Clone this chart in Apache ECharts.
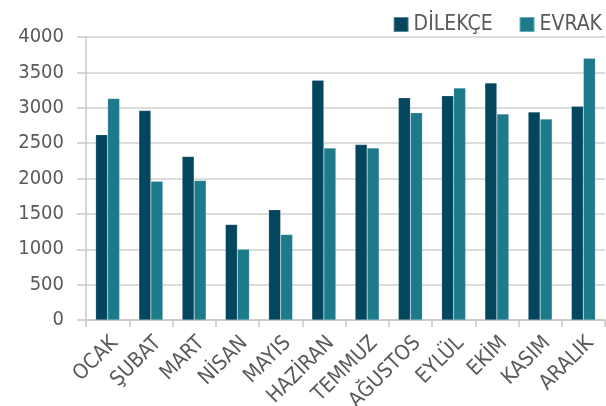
<!DOCTYPE html>
<html>
<head>
<meta charset="utf-8">
<script src="https://cdn.jsdelivr.net/npm/echarts@6/dist/echarts.min.js"></script>
<style>
  html, body { margin: 0; padding: 0; background: #fff; }
  #chart { width: 606px; height: 406px; }
</style>
</head>
<body>
<div id="chart"></div>
<script>
const months = ['OCAK', 'ŞUBAT', 'MART', 'NİSAN', 'MAYIS', 'HAZİRAN', 'TEMMUZ', 'AĞUSTOS', 'EYLÜL', 'EKİM', 'KASIM', 'ARALIK']
const dilekce = [2620, 2960, 2310, 1350, 1560, 3390, 2480, 3140, 3170, 3350, 2940, 3020]
const evrak = [3130, 1960, 1970, 1000, 1210, 2430, 2430, 2930, 3280, 2910, 2840, 3700]

const font = '"DejaVu Sans Condensed"'
const textColor = '#5a5a5a'

const myChart = echarts.init(document.getElementById('chart'))
myChart.setOption({
  animation: false,
  color: ['#03465e', '#1c7a8a'],
  textStyle: { fontFamily: font },
  legend: {
    top: 14,
    right: 4,
    padding: 0,
    icon: 'rect',
    itemWidth: 15,
    itemHeight: 15,
    itemGap: 26,
    textStyle: { fontSize: 21, color: textColor, fontFamily: font },
    data: ['DİLEKÇE', 'EVRAK'],
  },
  grid: {
    left: 86,
    right: 1,
    top: 37,
    bottom: 86,
    containLabel: false,
    outerBoundsMode: 'none',
  },
  xAxis: {
    type: 'category',
    data: months,
    axisLine: { lineStyle: { color: '#c8c8c8', width: 1.5 } },
    axisTick: { show: true, length: 7, lineStyle: { color: '#c8c8c8', width: 1.5 } },
    axisLabel: {
      rotate: 45,
      fontSize: 21,
      color: textColor,
      fontFamily: font,
      margin: 27,
      padding: [0, -10, 0, 0],
      interval: 0,
    },
  },
  yAxis: {
    type: 'value',
    min: 0,
    max: 4000,
    interval: 500,
    axisLine: { show: true, lineStyle: { color: '#c8c8c8', width: 1.5 } },
    axisTick: { show: true, length: 9, lineStyle: { color: '#c8c8c8', width: 1.5 } },
    splitLine: { lineStyle: { color: '#d0d0d0', width: 1.5 } },
    axisLabel: {
      fontSize: 20,
      color: textColor,
      fontFamily: font,
      margin: 22,
      formatter: (v) => String(v),
    },
  },
  series: [
    {
      name: 'DİLEKÇE',
      type: 'bar',
      barWidth: 12,
      barGap: 0,
      itemStyle: { borderColor: 'rgba(255,255,255,0.35)', borderWidth: 0.5 },
      data: dilekce,
    },
    {
      name: 'EVRAK',
      type: 'bar',
      barWidth: 12,
      barGap: 0,
      itemStyle: { borderColor: 'rgba(255,255,255,0.35)', borderWidth: 0.5 },
      data: evrak,
    },
  ],
})
window.addEventListener('resize', () => {
  myChart.resize()
})
</script>
</body>
</html>
